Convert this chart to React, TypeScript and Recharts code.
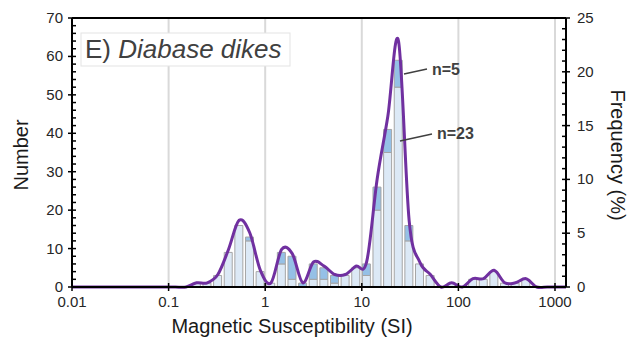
import React from 'react';
import { ComposedChart, Bar, Line, XAxis, YAxis, CartesianGrid, ReferenceLine } from 'recharts';

// Histogram bin centres (SI), evenly spaced in log10
const binCenters = [
  0.00933, 0.012, 0.0155, 0.02, 0.0257, 0.0331, 0.0427, 0.055, 0.0708, 0.0912,
  0.1175, 0.1514, 0.195, 0.2512, 0.3236, 0.4169, 0.537, 0.6918, 0.8913, 1.148,
  1.479, 1.905, 2.455, 3.162, 4.074, 5.248, 6.761, 8.71, 11.22, 14.45,
  18.62, 23.99, 30.9, 39.81, 51.29, 66.07, 85.11, 109.6, 141.3, 182.0,
  234.4, 302.0, 389.0, 501.2, 645.7, 831.8, 1072, 1380,
];

// Specimen counts per bin, sites group n=23
const countsN23 = [
  0, 0, 0, 0, 0, 0, 0, 0, 0, 0,
  0, 0, 1, 1, 3, 9, 16, 12, 4, 1,
  6, 2, 0, 2, 2, 1, 3, 5, 3, 20,
  35, 52, 12, 6, 3, 0, 1, 0, 2, 2,
  4, 1, 1, 2, 0, 0, 0, 0,
];

// Specimen counts per bin, sites group n=5
const countsN5 = [
  0, 0, 0, 0, 0, 0, 0, 0, 0, 0,
  0, 0, 0, 0, 0, 0, 0, 1, 0, 0,
  3, 6, 1, 4, 3, 2, 0, 0, 3, 6,
  6, 7, 4, 0, 0, 0, 0, 0, 0, 0,
  0, 0, 0, 0, 0, 0, 0, 0,
];

const xTicks = [0.01, 0.1, 1, 10, 100, 1000];
const countTicks = [0, 2, 4, 6, 8, 10, 12, 14, 16, 18, 20, 22, 24, 26, 28, 30, 32, 34, 36, 38, 40, 42, 44, 46, 48, 50, 52, 54, 56, 58, 60, 62, 64, 66, 68, 70];
const freqTicks = [0, 1, 2, 3, 4, 5, 6, 7, 8, 9, 10, 11, 12, 13, 14, 15, 16, 17, 18, 19, 20, 21, 22, 23, 24, 25];

const total = countsN23.reduce((a, b) => a + b, 0) + countsN5.reduce((a, b) => a + b, 0);

const data = binCenters.map((x, i) => ({
  x,
  n23: countsN23[i],
  n5: countsN5[i],
  freq: ((countsN23[i] + countsN5[i]) / total) * 100,
}));

const FONT = '"Liberation Sans", Arial, Helvetica, sans-serif';
const TICK_COLOR = '#262626';

// Smoothed line: uniform Catmull-Rom style cardinal spline (tension 0)
const smoothCurve = (context: any) => {
  const k = 1 / 6;
  let x0 = NaN, x1 = NaN, x2 = NaN, y0 = NaN, y1 = NaN, y2 = NaN;
  let state = 0;
  const seg = (x: number, y: number) => {
    context.bezierCurveTo(
      x1 + k * (x2 - x0),
      y1 + k * (y2 - y0),
      x2 + k * (x1 - x),
      y2 + k * (y1 - y),
      x2,
      y2,
    );
  };
  return {
    areaStart() {},
    areaEnd() {},
    lineStart() {
      x0 = x1 = x2 = y0 = y1 = y2 = NaN;
      state = 0;
    },
    lineEnd() {
      if (state === 2) context.lineTo(x2, y2);
      else if (state === 3) seg(x1, y1);
    },
    point(x: number, y: number) {
      x = +x;
      y = +y;
      if (state === 0) {
        state = 1;
        context.moveTo(x, y);
      } else if (state === 1) {
        state = 2;
        x1 = x;
        y1 = y;
      } else {
        state = 3;
        seg(x, y);
      }
      x0 = x1; x1 = x2; x2 = x;
      y0 = y1; y1 = y2; y2 = y;
    },
  };
};

const LeftTick = (props: any) => {
  const { x, y, payload } = props;
  const v = payload.value;
  const major = v % 10 === 0;
  return (
    <g>
      <line x1={major ? x - 4 : x} x2={x + 4} y1={y} y2={y} stroke="#000" strokeWidth={1.5} />
      {major && (
        <text x={x - 9} y={y} dy={5} textAnchor="end" fontSize={15} fontFamily={FONT} fill={TICK_COLOR}>
          {v}
        </text>
      )}
    </g>
  );
};

const RightTick = (props: any) => {
  const { x, y, payload } = props;
  const v = payload.value;
  const major = v % 5 === 0;
  return (
    <g>
      <line x1={x - 4} x2={major ? x + 4 : x} y1={y} y2={y} stroke="#000" strokeWidth={1.5} />
      {major && (
        <text x={x + 11} y={y} dy={5} textAnchor="start" fontSize={15} fontFamily={FONT} fill={TICK_COLOR}>
          {v}
        </text>
      )}
    </g>
  );
};

const BottomTick = (props: any) => {
  const { x, y, payload } = props;
  return (
    <g>
      <line x1={x} x2={x} y1={y - 4} y2={y + 4} stroke="#000" strokeWidth={1.5} />
      <text x={x} y={y + 20} textAnchor="middle" fontSize={15} fontFamily={FONT} fill={TICK_COLOR}>
        {payload.value}
      </text>
    </g>
  );
};

export default function App() {
  return (
    <div style={{ position: 'fixed', left: 0, top: 0, width: 634, height: 341, background: '#fff' }}>
      <ComposedChart
        width={634}
        height={341}
        data={data}
        margin={{ top: 18, right: 18, bottom: 24, left: 12 }}
        barGap={0}
      >
        <CartesianGrid vertical horizontal={false} stroke="#d9d9d9" strokeWidth={2} yAxisId="count" />
        <XAxis
          dataKey="x"
          type="number"
          scale="log"
          domain={[0.01, 1300]}
          ticks={xTicks}
          interval={0}
          allowDataOverflow
          height={30}
          tickSize={0}
          tickMargin={0}
          tickLine={false}
          axisLine={{ stroke: '#000', strokeWidth: 2 }}
          tick={<BottomTick />}
        />
        <YAxis
          yAxisId="count"
          orientation="left"
          width={60}
          domain={[0, 70]}
          ticks={countTicks}
          interval={0}
          tickSize={0}
          tickMargin={0}
          tickLine={false}
          axisLine={{ stroke: '#000', strokeWidth: 2 }}
          tick={<LeftTick />}
        />
        <YAxis
          yAxisId="freq"
          orientation="right"
          width={50}
          domain={[0, 25]}
          ticks={freqTicks}
          interval={0}
          tickSize={0}
          tickMargin={0}
          tickLine={false}
          axisLine={{ stroke: '#000', strokeWidth: 2 }}
          tick={<RightTick />}
        />
        <ReferenceLine yAxisId="count" y={70} stroke="#000" strokeWidth={2} />
        <Bar
          yAxisId="count"
          dataKey="n23"
          stackId="s"
          barSize={8}
          fill="#dce9f6"
          stroke="#a5a5a5"
          strokeWidth={1}
          isAnimationActive={false}
        />
        <Bar
          yAxisId="count"
          dataKey="n5"
          stackId="s"
          barSize={8}
          fill="#95c0e6"
          stroke="#a5a5a5"
          strokeWidth={1}
          isAnimationActive={false}
        />
        <Line
          yAxisId="freq"
          dataKey="freq"
          type={smoothCurve as any}
          stroke="#7030a0"
          strokeWidth={3}
          dot={false}
          activeDot={false}
          isAnimationActive={false}
        />
      </ComposedChart>
      <svg
        width={634}
        height={341}
        style={{ position: 'absolute', left: 0, top: 0, pointerEvents: 'none' }}
        fontFamily={FONT}
      >
        <rect x={81} y={33} width={209} height={33} fill="#fff" stroke="#e3e3e3" strokeWidth={1} />
        <text x={85} y={58} fontSize={26} fill="#404040">
          E) <tspan fontStyle="italic">Diabase dikes</tspan>
        </text>
        <line x1={404} y1={74} x2={427} y2={69} stroke="#404040" strokeWidth={1.5} />
        <text x={432} y={75} fontSize={16} fontWeight="bold" fill="#404040">n=5</text>
        <line x1={400} y1={141} x2={432} y2={134} stroke="#404040" strokeWidth={1.5} />
        <text x={437} y={139} fontSize={16} fontWeight="bold" fill="#404040">n=23</text>
        <text x={292} y={333} fontSize={20} textAnchor="middle" fill="#1a1a1a">Magnetic Susceptibility (SI)</text>
        <text x={28} y={155} fontSize={20} textAnchor="middle" fill="#1a1a1a" transform="rotate(-90 28 155)">Number</text>
        <text x={611} y={155} fontSize={20} textAnchor="middle" fill="#1a1a1a" transform="rotate(90 611 155)">Frequency (%)</text>
      </svg>
    </div>
  );
}
